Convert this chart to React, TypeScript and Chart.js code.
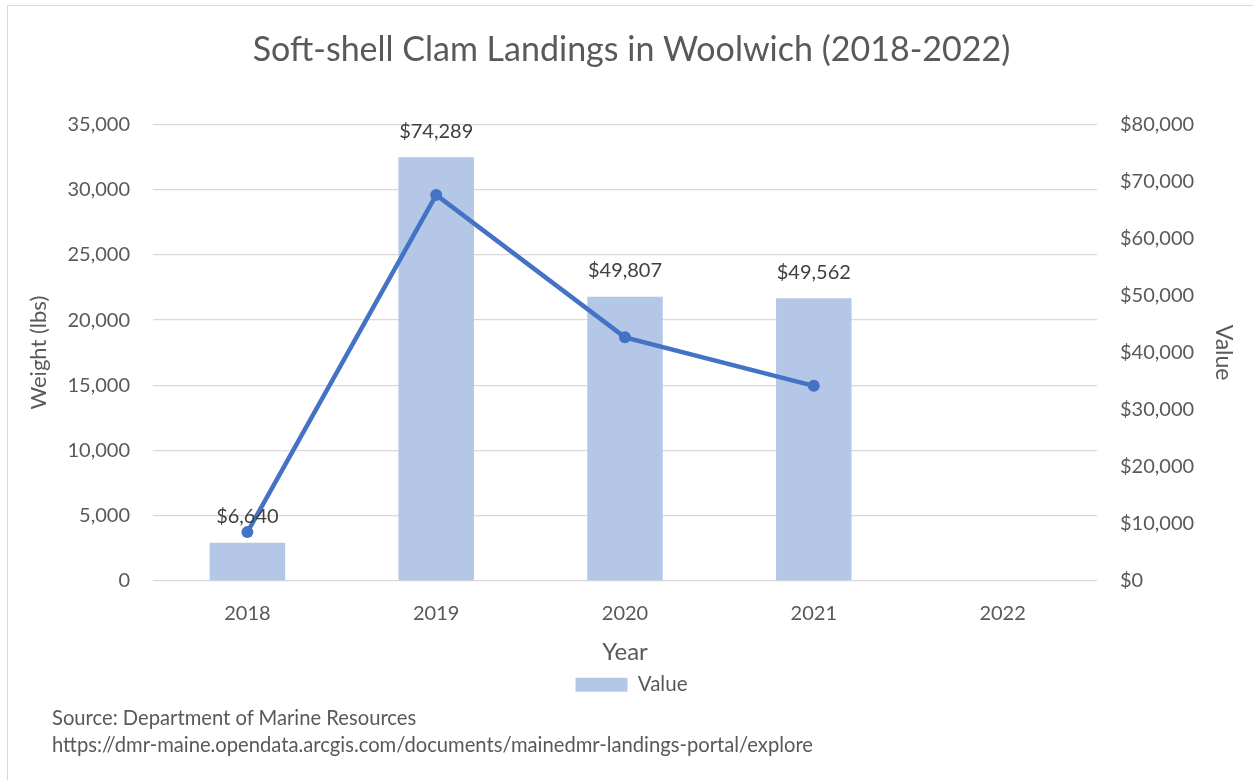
import React, { useEffect, useRef } from "react";
import { Chart, registerables } from "chart.js";

Chart.register(...registerables);

const years = ["2018", "2019", "2020", "2021", "2022"];
const valueDollars = [6640, 74289, 49807, 49562, null];
const weightLbs = [3716, 29615, 18675, 14950, null];
const leftTicks = [0, 5000, 10000, 15000, 20000, 25000, 30000, 35000];
const rightTicks = [0, 10000, 20000, 30000, 40000, 50000, 60000, 70000, 80000];

const FONT = "Lato, 'Noto Sans', sans-serif";
const GREY = "#595959";

const barLabels = {
  id: "barLabels",
  afterDatasetsDraw(chart: any) {
    const ctx = chart.ctx;
    const meta = chart.getDatasetMeta(0);
    ctx.save();
    ctx.font = `20px ${FONT}`;
    ctx.fillStyle = "#404040";
    ctx.textAlign = "center";
    ctx.textBaseline = "middle";
    meta.data.forEach((el: any, i: number) => {
      const v = valueDollars[i];
      if (v == null) return;
      ctx.fillText("$" + v.toLocaleString("en-US"), el.x, el.y - 26);
    });
    ctx.restore();
  },
};

export default function App() {
  const ref = useRef<HTMLCanvasElement>(null);
  useEffect(() => {
    document.body.style.margin = "0";
    const chart = new Chart(ref.current!, {
      type: "bar",
      data: {
        labels: years,
        datasets: [
          {
            type: "bar",
            label: "Value",
            data: valueDollars,
            backgroundColor: "#B4C7E7",
            yAxisID: "yRight",
            barPercentage: 0.4,
            categoryPercentage: 1,
            order: 2,
          },
          {
            type: "line",
            label: "Weight",
            data: weightLbs,
            borderColor: "#4472C4",
            backgroundColor: "#4472C4",
            borderWidth: 4.5,
            pointRadius: 6,
            pointBackgroundColor: "#4472C4",
            pointBorderWidth: 0,
            yAxisID: "yLeft",
            order: 1,
          } as any,
        ],
      },
      options: {
        animation: false,
        responsive: false,
        maintainAspectRatio: false,
        layout: { padding: { left: 22, right: 12, top: 0, bottom: 75 } },
        plugins: {
          title: {
            display: true,
            text: "Soft-shell Clam Landings in Woolwich (2018-2022)",
            color: GREY,
            font: { family: FONT, size: 34, weight: "normal" },
            padding: { top: 30, bottom: 54 },
          },
          legend: {
            position: "bottom",
            labels: {
              filter: (item: any) => item.text === "Value",
              boxWidth: 52,
              boxHeight: 14,
              color: GREY,
              font: { family: FONT, size: 20.5 },
              padding: 10,
            },
          },
          tooltip: { enabled: false },
        },
        scales: {
          x: {
            grid: { display: false },
            border: { display: false },
            ticks: { color: GREY, font: { family: FONT, size: 20 }, padding: 13 },
            title: {
              display: true,
              text: "Year",
              color: GREY,
              font: { family: FONT, size: 24, lineHeight: 1.0 },
              padding: { top: 0, bottom: 0 },
            },
            afterFit: (s: any) => { s.height = 84; },
          },
          yLeft: {
            position: "left",
            min: 0,
            max: 35000,
            afterBuildTicks: (s: any) => { s.ticks = leftTicks.map((v) => ({ value: v })); },
            grid: { color: "#D9D9D9", lineWidth: 1.3, drawTicks: false },
            border: { display: false },
            ticks: {
              color: GREY,
              font: { family: FONT, size: 20 },
              padding: 23,
              callback: (v: any) => Number(v).toLocaleString("en-US"),
            },
            title: {
              display: true,
              text: "Weight (lbs)",
              color: GREY,
              font: { family: FONT, size: 22 },
              padding: { top: 4, bottom: 0 },
            },
            afterFit: (s: any) => { s.width = 153 - 22; },
          },
          yRight: {
            position: "right",
            min: 0,
            max: 80000,
            afterBuildTicks: (s: any) => { s.ticks = rightTicks.map((v) => ({ value: v })); },
            grid: { display: false, drawTicks: false },
            border: { display: false },
            ticks: {
              color: GREY,
              font: { family: FONT, size: 20 },
              padding: 23,
              callback: (v: any) => "$" + Number(v).toLocaleString("en-US"),
            },
            title: {
              display: true,
              text: "Value",
              color: GREY,
              font: { family: FONT, size: 23 },
              padding: { top: 4, bottom: 0 },
            },
            afterFit: (s: any) => { s.width = 1253 - 1097 - 12; },
          },
        },
      },
      plugins: [barLabels],
    });
    return () => chart.destroy();
  }, []);

  return (
    <div style={{ position: "relative", width: 1253, height: 780, background: "#fff", overflow: "hidden" }}>
      <div
        style={{
          position: "absolute",
          left: 7,
          top: 5,
          width: 1300,
          height: 800,
          borderLeft: "1.5px solid #D9D9D9",
          borderTop: "1.5px solid #D9D9D9",
          boxSizing: "border-box",
        }}
      />
      <canvas ref={ref} width={1253} height={780} style={{ position: "absolute", left: 0, top: 0 }} />
      <div
        style={{
          position: "absolute",
          left: 52,
          top: 704,
          fontFamily: FONT,
          fontSize: 20.2,
          color: GREY,
          lineHeight: "27px",
        }}
      >
        <div>Source: Department of Marine Resources</div>
        <div>https://dmr-maine.opendata.arcgis.com/documents/mainedmr-landings-portal/explore</div>
      </div>
    </div>
  );
}
